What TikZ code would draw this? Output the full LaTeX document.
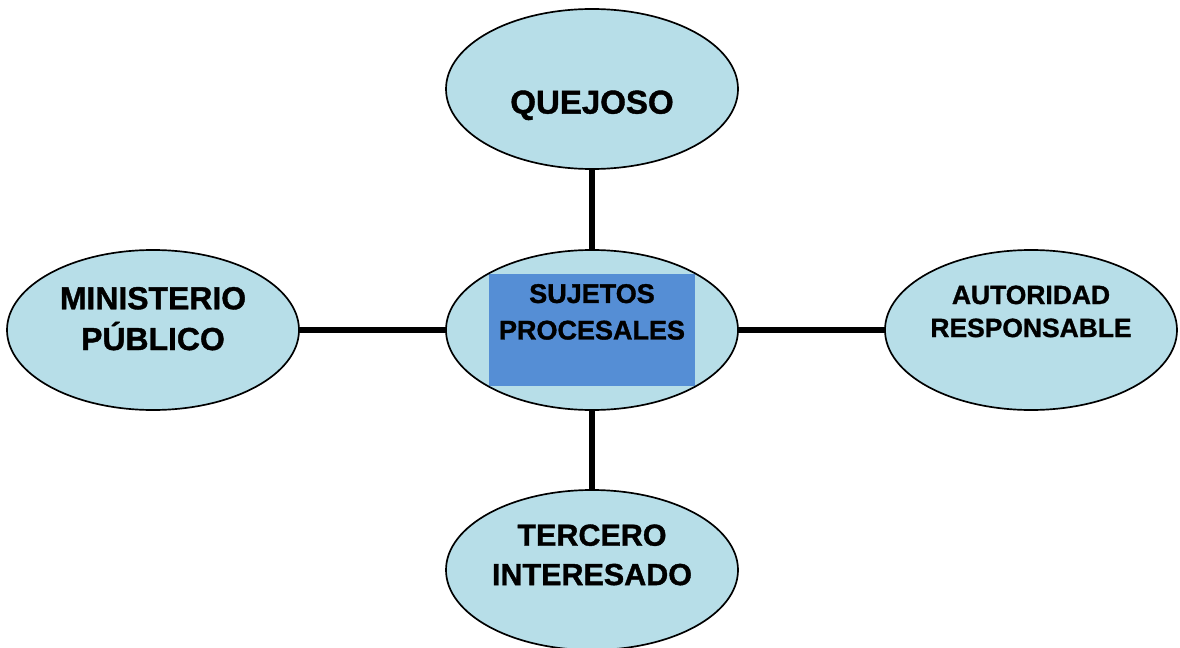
\documentclass[tikz,border=0pt]{standalone}
\usepackage{fontspec}
\setmainfont{Liberation Sans}[BoldFeatures={FakeBold=1.2}]
\usepackage{tikz}
\usepackage{tkz-graph}
\usepackage{xcolor}
\usetikzlibrary{shapes.geometric}

\definecolor{celeste}{HTML}{B7DEE8}
\definecolor{azulcaja}{HTML}{558ED5}

\NewDocumentCommand{\rotulo}{mm}{\raisebox{#1}[0pt][0pt]{\begin{tabular}{@{}c@{}}#2\end{tabular}}}

\tikzset{
	letra/.style 2 args={font=\fontsize{#1}{#2}\selectfont\bfseries},
	cajacentral/.style={path picture={\fill[azulcaja] ([xshift=-2.575cm,yshift=-1.4cm]path picture bounding box.center) rectangle ++(5.15cm,2.8cm);}}
}

\begin{document}
\begin{tikzpicture}
			%\draw[help lines] (0,-16) grid (30,0);
			\useasboundingbox (0,0) rectangle (29.5,-16.2);
			\SetVertexNormal[
			Shape 		= ellipse,
			LineWidth 	= 1.2pt]
			\SetUpEdge[
			lw 		= 3.6pt,
			color 	= black]
			\tikzset{VertexStyle/.append style={minimum width=7.3cm, minimum height=4cm, inner sep=0pt}}
			
			\renewcommand{\VertexLightFillColor}{celeste}
			
			\Vertex[x=14.8,y=-2.225,L={\rotulo{-0.63cm}{QUEJOSO}},style={letra={23.5}{29}}]{QUE}
			\Vertex[x=3.825,y=-8.25,L={\rotulo{0.03cm}{MINISTERIO\\PÚBLICO}},style={letra={22.7}{29}}]{MIN}
			\Vertex[x=14.8,y=-8.25,L={\rotulo{0.22cm}{SUJETOS\\PROCESALES}},style={letra={19.2}{26},cajacentral}]{SUJ}
			\Vertex[x=25.775,y=-8.25,L={\rotulo{0.25cm}{AUTORIDAD\\RESPONSABLE}},style={letra={18.8}{23.5}}]{AUT}
			\Vertex[x=14.8,y=-14.25,L={\rotulo{0.13cm}{TERCERO\\INTERESADO}},style={letra={21.7}{28}}]{TER}
			
			\Edges(SUJ,QUE)
			\Edges(SUJ,MIN)
			\Edges(SUJ,AUT)
			\Edges(SUJ,TER)
			\end{tikzpicture}
\end{document}
